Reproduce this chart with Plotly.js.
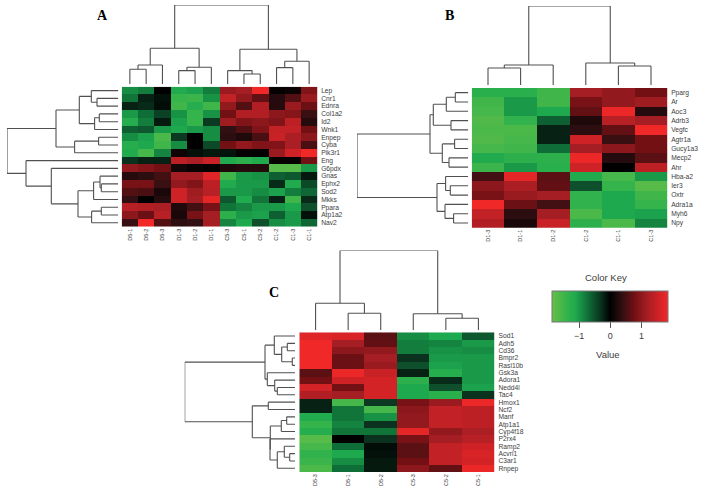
<!DOCTYPE html>
<html><head><meta charset="utf-8">
<script src="https://cdn.plot.ly/plotly-3.0.1.min.js"></script>
<style>html,body{margin:0;padding:0;background:#fff}</style></head>
<body><div id="chart" style="width:708px;height:489px"></div>
<script>
const colsA = ["D5-1","D5-2","D5-3","D1-3","D1-2","D1-1","C5-3","C5-1","C5-2","C1-2","C1-3","C1-1"];
const rowsA = ["Lep","Cnr1","Ednra","Col1a2","Id2","Wnk1","Enpep","Cyba","Pik3r1","Eng","G6pdx","Gnas","Ephx2","Sod2","Mkks","Ppara","Atp1a2","Nav2"];
const valuesA = [
[-0.9,-0.8,0,-1.15,-1.05,-0.8,1.1,1.2,1.85,0.05,0.1,0.9],
[-0.75,-0.2,-0.1,-1.4,-1.45,-0.95,1.45,1.05,0.7,0.3,0.6,1.1],
[-0.2,-0.25,-0.08,-1.5,-1.2,-1.5,1.05,0.6,1.3,0.3,1.1,0.75],
[-1.0,-0.7,-0.4,-0.95,-1.4,-0.95,0.8,1.3,1.3,1.0,0.95,0.45],
[-1.2,-0.8,-0.15,-1.05,-1.4,-0.35,1.15,0.9,1.0,0.9,1.4,0.3],
[-0.6,-0.55,-1.0,-1.1,-1.0,-0.9,0.4,0.6,0.9,1.45,1.45,0.8],
[-0.9,-1.05,-1.6,-0.35,0,-0.9,0.35,0.25,0.55,1.5,1.25,1.0],
[-1.2,-1.1,-1.5,-0.9,0,-0.45,0.8,1.05,0.9,0.9,1.25,0.55],
[-1.15,-1.55,-0.85,0.12,-0.1,-0.15,-0.12,0.05,0.03,1.1,1.55,1.85],
[-0.3,-0.2,-0.2,1.4,1.25,1.5,-1.15,-1.3,-1.15,0.05,0.03,0.8],
[1.05,0.95,0.8,0.15,0.07,0.03,0.25,0.3,0.3,-1.7,-1.7,-1.0],
[0.3,0.35,0.5,1.2,1.2,1.7,-1.5,-1.0,-0.95,-0.6,-0.55,-0.15],
[0.85,0.85,0.45,1.05,0.9,1.4,-1.15,-1.0,-1.0,-0.25,-1.15,-0.45],
[0.6,0.55,0.2,1.55,1.15,1.35,-1.0,-1.0,-0.9,-1.05,-0.8,-0.65],
[0.4,0.02,0.3,1.55,1.2,1.75,-0.55,-1.15,-0.75,-0.2,-1.5,-0.25],
[1.35,1.3,1.25,0.25,0.5,0.85,-0.75,-0.85,-1.0,-1.0,-1.1,-0.5],
[1.0,0.75,1.35,0.2,0.85,1.2,-1.3,-1.0,-1.05,-0.6,-1.0,-0.1],
[0.45,1.9,0.6,0.35,0.4,1.2,-0.85,-1.1,-0.5,-0.9,-1.0,-0.65]];
const colsB = ["D1-3","D1-1","D1-2","C1-2","C1-1","C1-3"];
const rowsB = ["Pparg","Ar","Aoc3","Adrb3","Vegfc","Agtr1a","Gucy1a3","Mecp2","Ahr","Hba-a2","Ier3","Oxtr","Adra1a","Myh6","Npy"];
const valuesB = [
[-1.25,-1.25,-1.5,1.2,1.05,0.8],
[-1.5,-1.0,-1.5,0.85,1.05,1.15],
[-1.55,-1.0,-1.1,0.7,1.8,0.3],
[-1.65,-1.35,-0.6,0.25,1.35,1.2],
[-1.6,-1.6,-0.2,0.35,0.7,1.85],
[-1.65,-1.55,-0.2,1.55,0.45,0.8],
[-1.55,-1.5,-0.7,1.2,1.0,0.8],
[-1.15,-1.3,-1.3,1.8,0.3,0.65],
[-1.45,-1.0,-1.25,1.55,0.01,1.4],
[0.5,1.75,0.65,-1.15,-1.55,-1.0],
[1.0,1.25,0.7,-0.5,-1.4,-1.7],
[0.85,1.1,1.2,-1.35,-1.1,-1.5],
[1.85,0.75,0.5,-1.35,-1.1,-1.4],
[1.45,0.35,1.2,-1.6,-1.1,-1.05],
[1.3,0.2,1.5,-1.3,-1.6,-0.85]];
const colsC = ["D5-3","D5-1","D5-2","C5-3","C5-2","C5-1"];
const rowsC = ["Sod1","Adh5","Cd36","Bmpr2","Rasl10b","Gsk3a","Adora1","Nedd4l","Tac4","Hmox1","Ncf2","Manf","Atp1a1","Cyp4f18","P2rx4","Ramp2","Acvrl1","C3ar1","Rnpep"];
const valuesC = [
[1.7,1.65,0.65,-0.9,-1.1,-0.55],
[1.85,1.2,0.7,-0.8,-0.85,-1.0],
[1.85,1.0,1.05,-0.8,-0.95,-0.9],
[1.85,0.75,1.2,-0.3,-1.0,-1.0],
[1.85,0.75,1.1,-0.5,-1.05,-1.0],
[0.65,1.8,1.5,-0.2,-1.2,-1.0],
[0.8,1.55,1.6,-1.3,-0.25,-1.0],
[1.6,0.8,1.6,-1.1,-0.5,-1.05],
[1.3,1.2,1.6,-1.1,-1.25,-0.3],
[-0.2,-1.55,-0.35,0.85,1.1,1.8],
[-0.2,-0.75,-1.55,1.0,1.45,1.4],
[-1.15,-0.75,-0.95,1.05,1.45,1.4],
[-1.4,-0.85,-0.3,1.05,1.45,1.4],
[-1.2,-0.75,-0.75,1.75,1.05,1.25],
[-1.7,0.0,-0.3,0.85,1.2,1.35],
[-1.55,-0.7,-0.08,0.65,1.45,1.55],
[-1.35,-1.1,-0.1,0.65,1.45,1.65],
[-1.45,-0.9,-0.15,0.8,1.45,1.6],
[-1.6,-0.7,-0.15,1.0,0.7,1.8]];

/* Dendrograms: [left, right, mergeHeight], a number is a leaf's position. */
const colTreeA = [[[[0,1,15],2,19.3],[[3,4,13.7],5,17],36],[[6,[7,8,10.3],13.7],[[9,10,16.7],11,23],35],79.3];
const rowTreeA = [[[[0,[1,2,21.3],27],[[3,4,19],5,23.7],39],[[6,7,19.7],8,43.7],62.3],
  [9,[10,[[[11,[12,13,17],18.3],14,24.7],[[15,16,17],17,26.7],40.3],67],92.3],111.3];
const colTreeB = [[[0,1,17],2,20],[3,[4,5,19],22],79];
const rowTreeB = [[[[[0,1,13],2,22],[3,4,17.3],35],[[5,6,13.7],[7,8,19.3],26],38.3],
  [[9,[10,11,18],22.7],[12,[13,14,14.7],23.3],31.3],111.3];
const colTreeC = [[0,[1,2,16.7],26.7],[3,[4,5,11.7],16.3],79.5];
const rowTreeC = [[[0,[[1,2,7.7],[3,4,2.7],13.3],20.7],[5,[6,[7,8,17.7],20.3],27.7],30],
  [[9,10,26.7],[[[11,12,8.3],13,13.7],[14,[[15,[16,17,5.3],10.7],18,17.7],25],24.7],42.7],110.3];

const keyStops = [[-1.86,"#68be48"],[-1.4,"#35b44b"],[-1.1,"#1ea94f"],[-0.7,"#0f6e37"],[-0.3,"#0a321e"],[0,"#000000"],[0.4,"#320f12"],[0.8,"#731014"],[1.2,"#a51e23"],[1.5,"#c82126"],[1.86,"#f22828"]];
const keyMin = -1.86, keyMax = 1.86;

const W = 708, H = 489;
const fx = p => p / W, fy = p => 1 - p / H;
const SANS = '"Liberation Sans",Arial,sans-serif', SERIF = '"Liberation Serif","Times New Roman",serif';
const LINE = "#505050", TXT = "#3c3c3c";

const panels = [
 {cols:colsA,rows:rowsA,z:valuesA,colTree:colTreeA,rowTree:rowTreeA,hx:[121.7,317.3],hy:[86.7,226.7],topY:[5,84.3],leftX:[7,118.3]},
 {cols:colsB,rows:rowsB,z:valuesB,colTree:colTreeB,rowTree:rowTreeB,hx:[471.7,667.3],hy:[88,227.7],topY:[6,85],leftX:[357,468.3]},
 {cols:colsC,rows:rowsC,z:valuesC,colTree:colTreeC,rowTree:rowTreeC,hx:[299.3,494.7],hy:[332.3,472],topY:[250.5,330],leftX:[184.7,295]}
];

function walk(node, segs){
  if (typeof node === "number") return {pos:node, h:0};
  const a = walk(node[0],segs), b = walk(node[1],segs), h = node[2];
  segs.push([a.pos,a.h,a.pos,h],[a.pos,h,b.pos,h],[b.pos,h,b.pos,b.h]);
  return {pos:(a.pos+b.pos)/2, h};
}
function polyline(tree){
  const segs = []; walk(tree,segs);
  const p = [], h = [];
  segs.forEach(s => { p.push(s[0],s[2],null); h.push(s[1],s[3],null); });
  return {p,h};
}
const note = (text,px,py,font) => ({text,x:fx(px),y:fy(py),xref:"paper",yref:"paper",xanchor:"center",yanchor:"middle",showarrow:false,font});
const hidden = {showgrid:false,zeroline:false,showticklabels:false,ticks:"",showline:false,fixedrange:true};
const stopsNorm = keyStops.map(s => [(s[0]-keyMin)/(keyMax-keyMin), s[1]]);
const traces = [];
const layout = {
  width:W,height:H,margin:{l:0,r:0,t:0,b:0},paper_bgcolor:"#fff",plot_bgcolor:"#fff",showlegend:false,
  font:{family:SANS,color:TXT},
  coloraxis:{colorscale:stopsNorm,cmin:keyMin,cmax:keyMax,
    colorbar:{orientation:"h",x:fx(610.2),xanchor:"center",y:fy(291.3),yanchor:"top",len:115.7,lenmode:"pixels",
      thickness:30.7,thicknessmode:"pixels",xpad:0,ypad:0,outlinecolor:"#777",outlinewidth:1,
      tickvals:[-1,0,1],ticks:"outside",ticklen:6,tickcolor:"#555",tickfont:{size:9,family:SANS,color:TXT}}},
  annotations:[
    note("<b>A</b>",102,15,{family:SERIF,size:14,color:"#000"}),
    note("<b>B</b>",449,15,{family:SERIF,size:14,color:"#000"}),
    note("<b>C</b>",274,292,{family:SERIF,size:14,color:"#000"}),
    note("Color Key",606,277,{family:SANS,size:9.5,color:TXT}),
    note("Value",607.5,354.5,{family:SANS,size:9.5,color:TXT})
  ]
};
let id = 1;
const suf = n => n === 1 ? "" : String(n);
panels.forEach(pn => {
  const nc = pn.cols.length, nr = pn.rows.length;
  const heat = id++, top = id++, left = id++;
  traces.push({type:"heatmap",z:pn.z,x:pn.cols,y:pn.rows,coloraxis:"coloraxis",xaxis:"x"+suf(heat),yaxis:"y"+suf(heat),hoverinfo:"skip"});
  layout["xaxis"+suf(heat)] = {domain:[fx(pn.hx[0]),fx(pn.hx[1])],anchor:"y"+suf(heat),type:"category",categoryorder:"array",categoryarray:pn.cols,
    tickmode:"array",tickvals:pn.cols,ticktext:pn.cols,
    side:"bottom",tickangle:-90,showgrid:false,zeroline:false,showline:false,ticks:"",tickfont:{size:5.5,family:SANS,color:TXT},fixedrange:true};
  layout["yaxis"+suf(heat)] = {domain:[fy(pn.hy[1]),fy(pn.hy[0])],anchor:"x"+suf(heat),type:"category",categoryorder:"array",categoryarray:pn.rows,
    tickmode:"array",tickvals:pn.rows,ticktext:pn.rows,
    autorange:"reversed",side:"right",showgrid:false,zeroline:false,showline:false,ticks:"outside",ticklen:1.5,tickcolor:"rgba(0,0,0,0)",tickfont:{size:6.7,family:SANS,color:TXT},fixedrange:true};
  const t = polyline(pn.colTree);
  traces.push({type:"scatter",mode:"lines",x:t.p,y:t.h,xaxis:"x"+suf(top),yaxis:"y"+suf(top),line:{color:LINE,width:1.1},hoverinfo:"skip",connectgaps:false});
  layout["xaxis"+suf(top)] = Object.assign({},hidden,{domain:[fx(pn.hx[0]),fx(pn.hx[1])],anchor:"y"+suf(top),range:[-0.5,nc-0.5]});
  layout["yaxis"+suf(top)] = Object.assign({},hidden,{domain:[fy(pn.topY[1]),fy(pn.topY[0])],anchor:"x"+suf(top),range:[0,pn.colTree[2]]});
  const l = polyline(pn.rowTree);
  traces.push({type:"scatter",mode:"lines",x:l.h,y:l.p,xaxis:"x"+suf(left),yaxis:"y"+suf(left),line:{color:LINE,width:1.1},hoverinfo:"skip",connectgaps:false});
  layout["xaxis"+suf(left)] = Object.assign({},hidden,{domain:[fx(pn.leftX[0]),fx(pn.leftX[1])],anchor:"y"+suf(left),range:[pn.rowTree[2],0]});
  layout["yaxis"+suf(left)] = Object.assign({},hidden,{domain:[fy(pn.hy[1]),fy(pn.hy[0])],anchor:"x"+suf(left),range:[nr-0.5,-0.5]});
});
Plotly.newPlot("chart",traces,layout,{displayModeBar:false,staticPlot:true});
</script></body></html>
